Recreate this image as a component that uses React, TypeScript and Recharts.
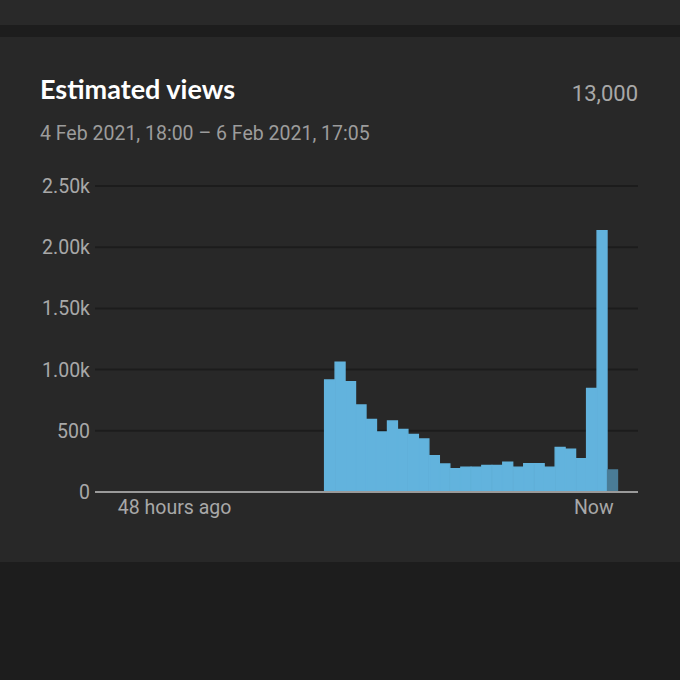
import { Bar, BarChart, CartesianGrid, Cell, XAxis, YAxis } from 'recharts'

// hourly views over the last 48 hours (oldest first); the last hour is still in progress
const views = [
  0, 0, 0, 0, 0, 0, 0, 0, 0, 0,
  0, 0, 0, 0, 0, 0, 0, 0, 0, 0,
  915, 1060, 901, 711, 594, 490, 580, 512, 471, 433,
  297, 229, 191, 204, 204, 218, 218, 243, 204, 231,
  231, 204, 365, 351, 272, 847, 2135, 180,
]
const hours = views.map((_, i) => i)

const yTicks = [0, 500, 1000, 1500, 2000, 2500]
const yTickLabels = ['0', '500', '1.00k', '1.50k', '2.00k', '2.50k']
const xTicks = [5, 45]
const xTickLabels = ['48 hours ago', 'Now']

const title = 'Estimated views'
const total = '13,000'
const range = '4 Feb 2021, 18:00 – 6 Feb 2021, 17:05'

const data = hours.map((h, i) => ({ hour: h, views: views[i] }))

const BLUE = '#62b3dd'
const BLUE_DIM = '#4a7c96'
const TICK = { fill: '#a8a8a8', fontSize: 19.5, fontFamily: 'Roboto' }

export default function App() {
  return (
    <div style={{ position: 'fixed', left: 0, top: 0, width: 680, height: 680, background: '#1d1d1d', overflow: 'hidden' }}>
      <div style={{ position: 'absolute', left: 0, top: 0, width: 680, height: 25, background: '#292929' }} />
      <div style={{ position: 'absolute', left: 0, top: 37, width: 680, height: 525, background: '#282828' }} />

      <svg width={680} height={160} style={{ position: 'absolute', left: 0, top: 0 }}>
        <text x={40} y={99} fill="#ffffff" fontSize={27} fontWeight={700} fontFamily="Lato">
          {title}
        </text>
        <text x={638} y={101} fill="#a8a8a8" fontSize={22} fontFamily="Roboto" textAnchor="end">
          {total}
        </text>
        <text x={40} y={140} fill="#9c9c9c" fontSize={19.5} fontFamily="Roboto">
          {range}
        </text>
      </svg>

      <div style={{ position: 'absolute', left: 0, top: 160 }}>
        <BarChart
          width={680}
          height={400}
          data={data}
          margin={{ top: 26, right: 42, left: 0, bottom: 38 }}
          barCategoryGap={0}
          barGap={0}
        >
          <CartesianGrid vertical={false} stroke="#1c1c1c" strokeWidth={2} />
          <XAxis
            dataKey="hour"
            ticks={xTicks}
            tickFormatter={(v: number) => xTickLabels[xTicks.indexOf(v)] ?? ''}
            interval={0}
            padding={{ left: 20, right: 20 }}
            axisLine={{ stroke: '#9a9a9a', strokeWidth: 2 }}
            tickLine={false}
            tick={{ ...TICK, dx: 2 }}
            height={30}
          />
          <YAxis
            domain={[0, 2500]}
            ticks={yTicks}
            tickFormatter={(v: number) => yTickLabels[yTicks.indexOf(v)] ?? ''}
            axisLine={false}
            tickLine={false}
            tickSize={5}
            tickMargin={0}
            width={95}
            tick={TICK}
          />
          <Bar dataKey="views" isAnimationActive={false}>
            {data.map((d, i) => {
              const c = i === data.length - 1 ? BLUE_DIM : BLUE
              return <Cell key={d.hour} fill={c} stroke={c} strokeWidth={1.3} />
            })}
          </Bar>
        </BarChart>
      </div>
    </div>
  )
}
